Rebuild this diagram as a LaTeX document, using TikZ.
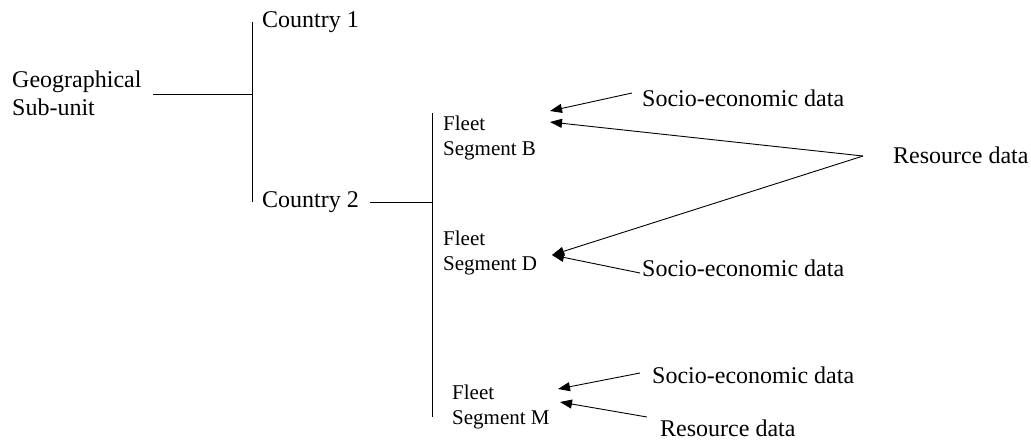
\documentclass[tikz,border=0pt]{standalone}
\usepackage{fontspec}
\setmainfont{Liberation Serif}
\usetikzlibrary{arrows.meta}
\tikzset{
  big/.style={font=\fontsize{24}{28}\selectfont, inner sep=0pt, anchor=base west, align=left},
  small/.style={font=\fontsize{21}{25}\selectfont, inner sep=0pt, anchor=base west, align=left},
  ln/.style={line width=0.9pt, black},
  arr/.style={line width=0.9pt, black, -{Triangle[length=12pt,width=9pt]}}
}
\begin{document}
\begin{tikzpicture}[x=1pt,y=-1pt]
\useasboundingbox (0,0) rectangle (1031,440);
% text nodes (base anchor of two-line nodes = last line)
\node[big] (geo) at (12,115) {Geographical\\Sub-unit};
\node[big] (c1) at (262,27) {Country 1};
\node[big] (c2) at (262,207) {Country 2};
\node[small] (fb) at (443,155) {Fleet\\Segment B};
\node[small] (fd) at (443,270) {Fleet\\Segment D};
\node[small] (fm) at (452,424) {Fleet\\Segment M};
\node[big] (sb) at (642,106) {Socio-economic data};
\node[big] (res) at (893,163) {Resource data};
\node[big] (sd) at (642,276) {Socio-economic data};
\node[big] (sm) at (652,383) {Socio-economic data};
\node[big] (rm) at (660,436) {Resource data};
% bracket coordinates
\coordinate (v1t) at (252,22);
\coordinate (v1b) at (252,202);
\coordinate (v1m) at (252,94);
\coordinate (g1) at (153,94);
\coordinate (v2t) at (432,113);
\coordinate (v2b) at (432,417);
\coordinate (v2m) at (432,202);
\coordinate (c2e) at (370,202);
% tree lines
\draw[ln] (v1t) -- (v1b);
\draw[ln] (g1) -- (v1m);
\draw[ln] (v2t) -- (v2b);
\draw[ln] (c2e) -- (v2m);
% arrow coordinates
\coordinate (rv) at (863,156);
\coordinate (sbt) at (632,93);
\coordinate (sdt) at (640,273);
\coordinate (smt) at (640,373);
\coordinate (rmt) at (647,417);
\coordinate (tb1) at (550,111);
\coordinate (tb2) at (550,122);
\coordinate (td) at (552,255);
\coordinate (tm1) at (558,389);
\coordinate (tm2) at (560,402);
\draw[arr] (sbt) -- (tb1);
\draw[arr] (rv) -- (tb2);
\draw[arr] (rv) -- (td);
\draw[arr] (sdt) -- (td);
\draw[arr] (smt) -- (tm1);
\draw[arr] (rmt) -- (tm2);
\end{tikzpicture}
\end{document}
